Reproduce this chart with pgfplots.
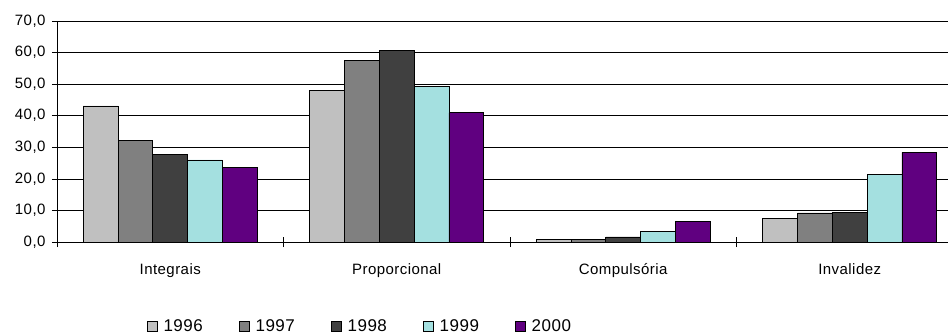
\documentclass[border=0pt]{standalone}
\usepackage{fontspec}
\setmainfont{Liberation Sans}[LetterSpace=3]
\usepackage{pgfplots}
\pgfplotsset{compat=1.18}
\definecolor{cA}{HTML}{C0C0C0}
\definecolor{cB}{HTML}{808080}
\definecolor{cC}{HTML}{404040}
\definecolor{cD}{HTML}{A4E0E0}
\definecolor{cE}{HTML}{600080}
\begin{document}
\begin{tikzpicture}
\useasboundingbox (0,0) rectangle (948pt,333pt);
\begin{axis}[
  at={(57pt,91pt)}, anchor=south west,
  scale only axis, width=891pt, height=221pt,
  xmin=-0.5, xmax=3.434, ymin=0, ymax=70,
  ybar=0pt, bar width=34.8pt,
  axis x line*=bottom, axis y line*=left,
  axis line style={black, line width=0.6pt},
  ytick={0,10,...,70},
  ymajorgrids, grid style={black, line width=0.6pt},
  tick align=outside, major tick length=5pt,
  tick style={black, line width=0.6pt},
  /pgf/number format/.cd, fixed, fixed zerofill, precision=1, use comma, assume math mode=true,
  /pgfplots/.cd,
  yticklabel style={font=\fontsize{15}{15}\selectfont, xshift=-3pt},
  xtick={0,1,2,3},
  xticklabels={Integrais, Proporcional, Compulsória, Invalidez},
  xticklabel style={font=\fontsize{15}{15}\selectfont, yshift=-13pt},
  xtick style={draw=none},
  extra x ticks={-0.5,0.5,1.5,2.5},
  extra x tick labels={},
  extra x tick style={xtick style={draw=black, line width=0.6pt}, tick align=center, major tick length=10pt, grid=none},
  legend columns=5,
  legend style={at={(0.34,-0.38)}, anchor=center, draw=none, font=\fontsize{17}{17}\selectfont,
    /tikz/every even column/.append style={column sep=34pt}},
  legend image code/.code={\draw[#1, draw=black, line width=0.6pt] (0pt,-5pt) rectangle (10pt,5pt);
    \path (14pt,0pt);},
  every axis plot/.append style={draw=black, line width=0.8pt},
]
\addplot[fill=cA] coordinates {(0,43.1) (1,48.1) (2,0.9) (3,7.5)};
\addplot[fill=cB] coordinates {(0,32.2) (1,57.4) (2,0.9) (3,9.2)};
\addplot[fill=cC] coordinates {(0,27.7) (1,60.6) (2,1.6) (3,9.3)};
\addplot[fill=cD] coordinates {(0,26.0) (1,49.2) (2,3.4) (3,21.4)};
\addplot[fill=cE] coordinates {(0,23.5) (1,40.9) (2,6.6) (3,28.4)};
\legend{1996,1997,1998,1999,2000}
\end{axis}
\end{tikzpicture}
\end{document}
